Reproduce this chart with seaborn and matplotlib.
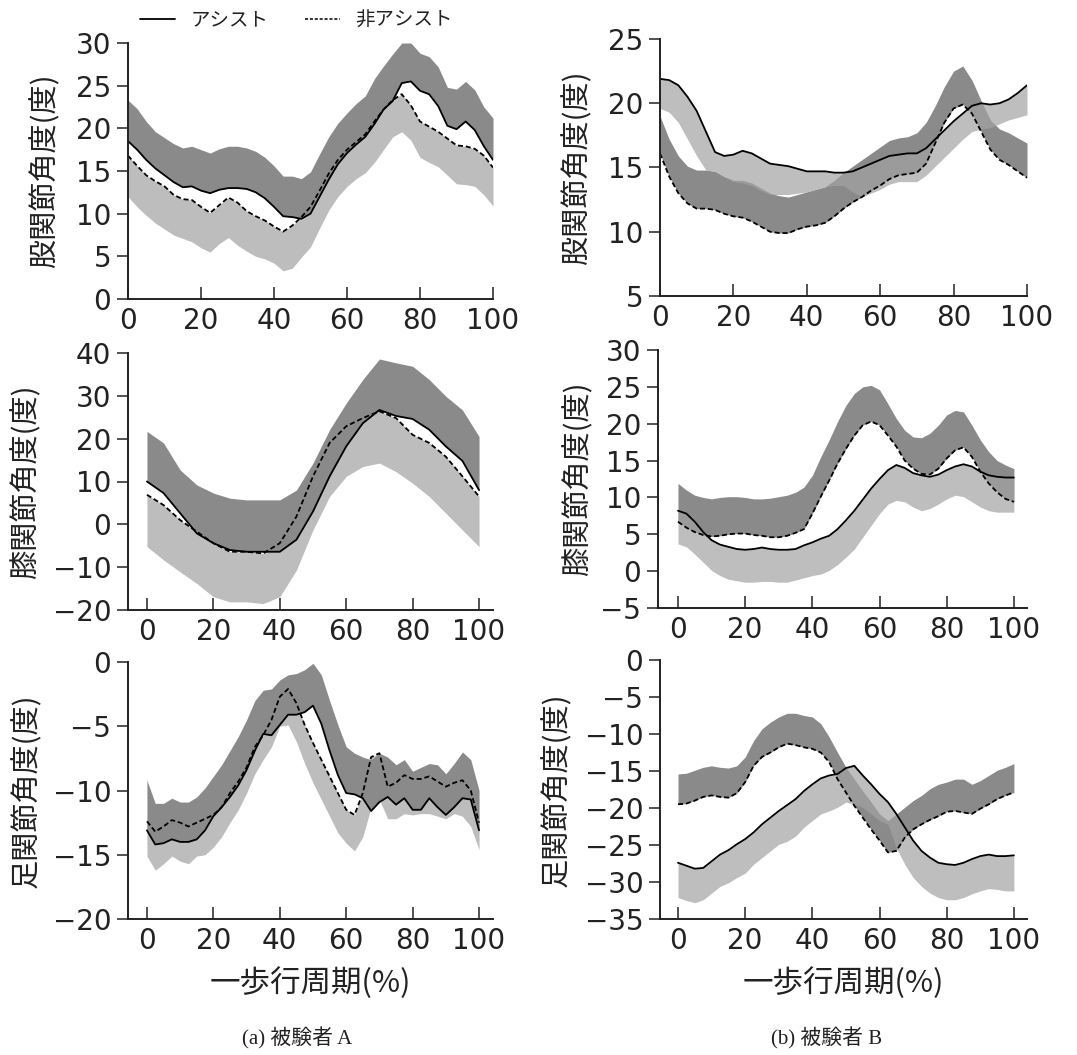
import numpy as np
import matplotlib
matplotlib.use('Agg')
import matplotlib.pyplot as plt
from matplotlib.lines import Line2D
import seaborn as sns

sns.set_style('ticks')
plt.rcParams['font.family'] = ['Noto Sans CJK JP', 'DejaVu Sans']
plt.rcParams['axes.unicode_minus'] = True

# gait cycle (%) sample positions
x_fine = np.arange(0, 100.1, 2.5)
x_coarse = np.arange(0, 100.1, 5)

# --- subject A, hip (2.5 % steps)
hipA_assist = [18.5, 17.5, 16.3, 15.3, 14.5, 13.7, 13.1, 13.2, 12.7, 12.4, 12.8, 13.0, 13.0, 12.9,
               12.5, 11.8, 10.8, 9.7, 9.6, 9.4, 10.0, 12.0, 14.0, 15.8, 17.1, 18.1, 19.0, 20.5,
               22.2, 23.2, 25.3, 25.5, 24.4, 24.0, 22.6, 20.3, 19.9, 20.8, 19.8, 17.9, 16.3]
hipA_non = [16.8, 15.6, 14.5, 13.8, 13.2, 12.2, 11.7, 11.6, 10.8, 10.1, 11.0, 11.9, 11.3, 10.3,
            9.7, 9.2, 8.5, 7.9, 8.6, 9.6, 10.8, 12.7, 14.7, 16.3, 17.5, 18.4, 19.3, 20.8,
            22.2, 23.3, 24.0, 22.7, 20.8, 20.2, 19.6, 18.8, 18.0, 17.9, 17.6, 16.8, 15.4]
hipA_dark = [23.3, 22.3, 20.8, 19.6, 18.9, 18.2, 17.7, 17.9, 17.5, 17.1, 17.6, 17.9, 17.9, 17.7,
             17.3, 16.6, 15.6, 14.4, 14.4, 14.1, 14.9, 17.0, 19.0, 20.6, 21.8, 22.9, 23.8, 25.8,
             27.3, 28.7, 30.0, 30.0, 28.8, 28.4, 27.2, 24.8, 24.6, 25.5, 24.5, 22.5, 21.2]
hipA_light = [12.0, 10.8, 9.8, 8.9, 8.2, 7.5, 7.1, 6.7, 6.0, 5.5, 6.5, 7.2, 6.3, 5.6,
              5.0, 4.7, 4.2, 3.3, 3.6, 4.9, 6.1, 8.3, 10.4, 12.0, 13.2, 14.1, 14.8, 16.0,
              17.5, 19.0, 19.6, 18.6, 16.6, 16.0, 15.5, 14.5, 13.5, 13.4, 13.2, 12.2, 10.9]

# --- subject B, hip (2.5 % steps)
hipB_assist = [21.9, 21.8, 21.4, 20.5, 19.4, 17.8, 16.2, 15.9, 16.0, 16.3, 16.1, 15.7, 15.3, 15.2,
               15.1, 14.9, 14.7, 14.7, 14.7, 14.6, 14.6, 14.7, 15.0, 15.3, 15.6, 15.9, 16.0, 16.1,
               16.1, 16.5, 17.2, 17.9, 18.6, 19.2, 19.8, 20.0, 19.9, 20.0, 20.3, 20.8, 21.4]
hipB_non = [16.1, 14.3, 13.0, 12.2, 11.8, 11.8, 11.7, 11.4, 11.2, 11.1, 10.8, 10.4, 10.0, 9.9,
            9.9, 10.2, 10.4, 10.5, 10.7, 11.2, 11.8, 12.3, 12.7, 13.2, 13.6, 14.1, 14.4, 14.5,
            14.6, 15.3, 16.9, 18.5, 19.6, 19.9, 19.2, 17.8, 16.4, 15.6, 15.2, 14.7, 14.2]
hipB_dark = [19.0, 17.2, 15.9, 15.1, 14.8, 14.8, 14.7, 14.3, 14.0, 14.0, 13.8, 13.4, 13.0, 12.8,
             12.7, 12.9, 13.1, 13.3, 13.5, 14.0, 14.6, 15.1, 15.6, 16.1, 16.6, 17.1, 17.3, 17.4,
             17.7, 18.5, 19.8, 21.3, 22.5, 22.9, 21.8, 20.2, 18.7, 18.0, 17.7, 17.3, 16.9]
hipB_light = [19.6, 19.3, 18.5, 17.2, 15.9, 14.8, 14.7, 14.3, 13.9, 13.8, 13.6, 13.2, 12.9, 12.9,
              12.9, 13.0, 13.1, 13.3, 13.5, 13.6, 13.6, 13.1, 12.7, 13.0, 13.3, 13.7, 13.9, 13.9,
              13.9, 14.4, 15.1, 15.8, 16.5, 17.2, 17.8, 18.0, 18.1, 18.4, 18.7, 18.9, 19.1]

# --- subject A, knee (5 % steps)
kneeA_assist = [10.0, 7.3, 2.6, -2.1, -4.4, -6.0, -6.4, -6.4, -6.4, -3.6, 3.0, 11.2, 18.2, 23.6,
                26.7, 25.3, 24.6, 22.1, 18.2, 14.8, 8.0]
kneeA_non = [6.9, 4.5, 1.0, -1.7, -4.4, -6.4, -6.4, -6.8, -4.4, 1.8, 11.2, 19.0, 22.9, 24.8,
             26.4, 24.8, 20.9, 19.0, 15.8, 11.2, 6.5]
kneeA_dark = [21.7, 19.0, 12.7, 9.2, 7.3, 6.1, 5.7, 5.7, 5.7, 8.0, 14.3, 22.1, 28.3, 33.8,
              38.6, 37.7, 36.9, 33.8, 29.9, 26.7, 20.5]
kneeA_light = [-5.2, -8.3, -11.1, -13.8, -16.9, -18.1, -18.1, -18.5, -16.9, -10.7, -1.3, 6.5, 11.2,
               13.5, 14.3, 12.3, 9.6, 6.5, 2.6, -1.3, -5.2]

# --- subject B, knee (2.5 % steps)
kneeB_assist = [8.2, 7.8, 6.7, 5.3, 4.2, 3.6, 3.3, 3.0, 2.9, 3.0, 3.2, 3.0, 2.9, 2.9,
                3.0, 3.5, 3.9, 4.4, 4.8, 5.7, 6.9, 8.2, 9.7, 11.2, 12.5, 13.7, 14.4, 14.0,
                13.3, 13.0, 12.8, 13.1, 13.7, 14.2, 14.5, 14.2, 13.5, 13.0, 12.8, 12.7, 12.7]
kneeB_non = [6.7, 5.9, 5.3, 4.9, 4.7, 4.8, 5.0, 5.1, 5.1, 4.9, 4.8, 4.6, 4.6, 4.8,
             5.2, 5.7, 7.8, 10.1, 12.3, 14.6, 16.6, 18.4, 19.8, 20.3, 19.8, 18.4, 16.9, 15.0,
             13.9, 13.2, 13.1, 13.9, 15.3, 16.4, 16.8, 15.5, 13.5, 11.9, 10.7, 9.8, 9.4]
kneeB_dark = [11.9, 11.0, 10.3, 10.0, 9.8, 10.0, 10.1, 10.1, 10.0, 9.8, 9.8, 9.9, 10.1, 10.3,
              10.7, 11.4, 13.0, 15.5, 17.8, 20.3, 22.5, 24.1, 25.0, 25.2, 24.6, 22.7, 20.7, 19.1,
              18.2, 18.1, 18.7, 19.8, 21.2, 21.8, 21.6, 19.8, 17.8, 16.2, 15.0, 14.4, 13.9]
kneeB_light = [3.7, 3.3, 2.3, 1.2, 0.1, -0.6, -1.1, -1.3, -1.5, -1.5, -1.4, -1.4, -1.5, -1.5,
               -1.2, -0.9, -0.6, -0.4, 0.1, 0.9, 1.9, 3.0, 4.6, 6.2, 7.8, 9.1, 9.6, 9.4,
               8.7, 8.2, 8.5, 9.1, 9.8, 10.3, 10.1, 9.4, 8.7, 8.2, 8.0, 8.0, 8.0]

# --- subject A, ankle (2.5 % steps)
ankleA_assist = [-13.1, -14.2, -14.1, -13.8, -14.0, -14.0, -13.8, -13.1, -12.0, -11.3, -10.5, -9.6,
                 -8.4, -6.9, -5.6, -5.7, -4.9, -4.1, -4.1, -3.9, -3.4, -4.8, -6.9, -8.8, -10.2,
                 -10.3, -10.6, -11.6, -10.9, -10.5, -11.1, -10.6, -11.5, -11.5, -10.6, -11.3,
                 -11.9, -11.3, -10.6, -10.7, -13.1]
ankleA_non = [-12.4, -13.2, -12.8, -12.3, -12.5, -12.8, -12.5, -12.2, -11.9, -11.3, -10.2, -9.3,
              -8.2, -6.6, -5.7, -4.5, -2.7, -2.1, -3.2, -4.9, -6.3, -7.6, -8.9, -10.2, -11.5,
              -11.9, -10.2, -7.4, -7.1, -9.7, -9.4, -8.8, -9.1, -9.1, -8.9, -9.3, -9.7, -9.4,
              -9.2, -10.0, -12.5]
ankleA_dark = [-9.2, -11.0, -11.0, -10.6, -10.9, -10.9, -10.5, -9.8, -8.9, -8.0, -6.9, -5.8,
               -4.5, -3.0, -2.2, -2.1, -1.4, -1.0, -0.9, -0.6, -0.1, -1.0, -3.0, -4.9, -6.6,
               -7.1, -7.4, -7.6, -7.1, -7.4, -8.0, -7.6, -8.5, -8.2, -7.9, -8.0, -8.7, -7.9,
               -7.0, -7.6, -10.0]
ankleA_light = [-15.1, -16.2, -15.7, -15.1, -15.5, -15.7, -15.1, -15.0, -14.4, -13.6, -12.5, -11.5,
                -10.2, -8.7, -7.6, -6.6, -5.0, -4.9, -6.2, -7.9, -9.4, -10.7, -12.0, -13.3, -14.1,
                -14.7, -13.6, -11.3, -10.7, -12.2, -12.2, -11.8, -11.9, -11.8, -11.8, -12.0,
                -12.2, -11.8, -12.0, -12.8, -14.6]

# --- subject B, ankle (2.5 % steps)
ankleB_assist = [-27.4, -27.8, -28.2, -28.1, -27.2, -26.3, -25.7, -24.9, -24.2, -23.3, -22.2, -21.3,
                 -20.4, -19.6, -18.8, -17.7, -16.8, -16.0, -15.6, -15.4, -14.6, -14.3, -15.6, -16.8,
                 -18.1, -19.2, -20.8, -22.6, -24.4, -25.8, -26.7, -27.4, -27.6, -27.7, -27.4,
                 -26.9, -26.5, -26.3, -26.5, -26.5, -26.4]
ankleB_non = [-19.5, -19.4, -19.0, -18.5, -18.3, -18.5, -18.6, -18.0, -16.5, -14.3, -13.1, -12.5,
              -11.8, -11.3, -11.5, -11.8, -12.0, -12.5, -13.8, -16.1, -17.9, -19.7, -21.3, -22.9,
              -24.4, -26.0, -25.8, -24.0, -22.9, -22.2, -21.6, -21.1, -20.5, -20.4, -20.6,
              -20.8, -20.1, -19.5, -18.8, -18.3, -17.9]
ankleB_dark = [-15.4, -15.3, -14.9, -14.5, -14.3, -14.5, -14.6, -14.3, -13.1, -10.9, -9.3, -8.4,
               -7.7, -7.2, -7.2, -7.5, -7.7, -8.6, -10.4, -12.5, -14.5, -16.1, -17.7, -19.2,
               -20.8, -21.7, -20.8, -19.9, -19.0, -18.3, -17.4, -16.8, -16.5, -16.1, -16.1,
               -16.8, -16.3, -15.6, -14.9, -14.5, -14.0]
ankleB_light = [-32.1, -32.5, -32.8, -32.4, -31.5, -30.6, -30.1, -29.4, -28.8, -27.6, -26.7, -25.8,
                -24.9, -24.5, -23.8, -22.6, -21.7, -20.8, -20.4, -19.9, -19.2, -19.5, -19.9, -20.8,
                -21.7, -22.2, -25.4, -27.6, -29.4, -30.6, -31.5, -32.1, -32.4, -32.4, -32.1,
                -31.6, -31.2, -30.9, -31.0, -31.2, -31.2]

x_ticks = [0, 20, 40, 60, 80, 100]
HIP = '股関節角度(度)'
KNEE = '膝関節角度(度)'
ANKLE = '足関節角度(度)'
XLABEL = '一歩行周期(%)'

DARK = '#8a8a8a'
LIGHT = '#bdbdbd'
LIGHT_TOP = '#a3a3a3'
INK = '#222222'
W, H = 1077, 1055

fig = plt.figure(figsize=(W / 100, H / 100), dpi=100)


def panel(rect, x, assist, non, dark, light, subject, xlim, ylim, yticks, ylabel, label_x,
          xlabel=None):
    left, top, right, bottom = rect
    ax = fig.add_axes([left / W, 1 - bottom / H, (right - left) / W, (bottom - top) / H])
    if subject == 'A':
        # non-assist band below, assist band above (drawn on top)
        ax.fill_between(x, non, light, color=LIGHT, lw=0)
        ax.fill_between(x, assist, dark, color=DARK, lw=0)
    else:
        ax.fill_between(x, non, dark, color=DARK, lw=0)
        ax.fill_between(x, assist, light, color=LIGHT_TOP, alpha=0.7, lw=0)
    sns.lineplot(x=x, y=assist, ax=ax, color='k', lw=1.3, estimator=None, sort=False)
    sns.lineplot(x=x, y=non, ax=ax, color='k', lw=1.3, linestyle=(0, (2.8, 1.6)),
                 estimator=None, sort=False)
    ax.set_xlim(*xlim)
    ax.set_ylim(*ylim)
    ax.set_xticks(x_ticks)
    ax.set_yticks(yticks)
    sns.despine(ax=ax)
    for s in ['left', 'bottom']:
        ax.spines[s].set_linewidth(1.4)
        ax.spines[s].set_color(INK)
    ax.tick_params(axis='x', direction='in', length=9, width=1.1, labelsize=20, pad=6,
                   colors=INK)
    ax.tick_params(axis='y', direction='out', length=8, width=1.1, labelsize=20, pad=4,
                   colors=INK)
    for t in ax.get_xticklabels() + ax.get_yticklabels():
        t.set_fontfamily('DejaVu Sans')
    ax.set_ylabel(ylabel, fontsize=21, color=INK)
    ax.yaxis.set_label_coords(label_x, 0.5)
    if xlabel:
        ax.set_xlabel(xlabel, fontsize=22, color=INK)
        ax.xaxis.set_label_coords(0.5, -(967 - bottom) / (bottom - top))
    else:
        ax.set_xlabel('')
    return ax


panel((128, 43, 493, 299), x_fine, hipA_assist, hipA_non, hipA_dark, hipA_light, 'A',
      (0, 100), (0, 30), range(0, 31, 5), HIP, -0.186)
panel((660, 39, 1027, 296), x_fine, hipB_assist, hipB_non, hipB_dark, hipB_light, 'B',
      (0, 100), (5, 25), range(5, 26, 5), HIP, -0.183)
panel((128, 353, 493, 610), x_coarse, kneeA_assist, kneeA_non, kneeA_dark, kneeA_light, 'A',
      (-5.7, 104.2), (-20, 40), range(-20, 41, 10), KNEE, -0.236)
panel((658, 350, 1027, 608), x_fine, kneeB_assist, kneeB_non, kneeB_dark, kneeB_light, 'B',
      (-5.95, 103.9), (-5, 30), range(-5, 31, 5), KNEE, -0.176)
panel((128, 662, 493, 919), x_fine, ankleA_assist, ankleA_non, ankleA_dark, ankleA_light, 'A',
      (-5.7, 104.2), (-20, 0), range(-20, 1, 5), ANKLE, -0.236, XLABEL)
panel((660, 660, 1027, 919), x_fine, ankleB_assist, ankleB_non, ankleB_dark, ankleB_light, 'B',
      (-5.36, 103.9), (-35, 0), range(-35, 1, 5), ANKLE, -0.24, XLABEL)

handles = [Line2D([], [], color='k', lw=1.3),
           Line2D([], [], color='k', lw=1.1, linestyle=(0, (2.0, 1.2)))]
fig.legend(handles, ['アシスト', '非アシスト'], loc='center left',
           bbox_to_anchor=(140 / W, 1 - 20 / H), ncol=2, frameon=False, fontsize=14,
           handlelength=1.8, handletextpad=0.8, columnspacing=1.85, borderpad=0,
           borderaxespad=0, labelcolor=INK)

cap_font = ['Liberation Serif', 'Noto Sans CJK JP']
fig.text(297 / W, 1 - 1038 / H, '(a) 被験者 A', ha='center', va='center', fontsize=15,
         family=cap_font, color=INK)
fig.text(827 / W, 1 - 1038 / H, '(b) 被験者 B', ha='center', va='center', fontsize=15,
         family=cap_font, color=INK)

fig.savefig('out.png', dpi=100)
